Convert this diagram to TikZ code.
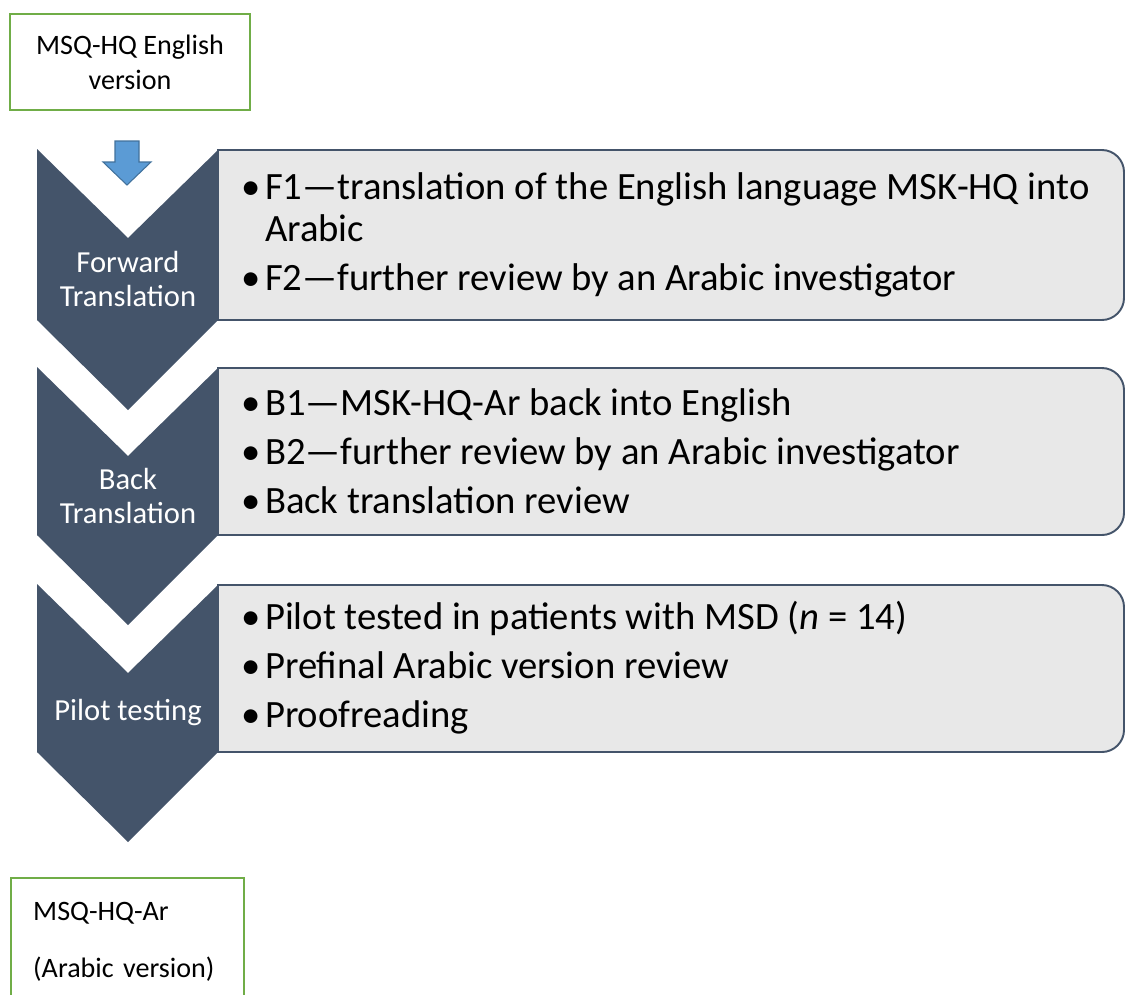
\documentclass[tikz,border=0pt]{standalone}
\usepackage{fontspec}
\setmainfont{Carlito}
\usepackage{tikz}
\usetikzlibrary{positioning}
\definecolor{slate}{RGB}{68,84,106}
\definecolor{stepgray}{RGB}{232,232,232}
\definecolor{versiongreen}{RGB}{112,173,71}
\definecolor{arrowblue}{RGB}{91,155,213}
\definecolor{arrowedge}{RGB}{65,113,156}
\newcommand{\bul}{\makebox[13.5pt][l]{\textbullet}}

\begin{document}
\begin{tikzpicture}[x=0.02cm, y=-0.02cm, every node/.style={inner sep=0pt},
    version/.style={draw=versiongreen, line width=1.4pt, font=\fontsize{16pt}{19.8pt}\selectfont},
    steptext/.style={anchor=west, align=left, font=\fontsize{22pt}{23.8pt}\selectfont},
    steplabel/.style={text=white, align=center, font=\fontsize{17.4pt}{19.3pt}\selectfont},
    stepbox/.style={draw=slate, fill=stepgray, line width=1.1pt}]

    \useasboundingbox (0,0) rectangle (1125,994);
    \clip (0,0) rectangle (1125,994);

    \foreach \t/\b in {150/320, 368/535, 585/752} {
        \draw[stepbox] (218,\b) -- (218,\t) -- (1102,\t) .. controls (1114,\t) and (1124,\t+10) .. (1124,\t+22)
            -- (1124,\b-22) .. controls (1124,\b-10) and (1114,\b) .. (1102,\b) -- cycle;
        \fill[slate] (37,\t-1) -- (128,\t+88) -- (218,\t) -- (218,\b) -- (128,\b+90) -- (37,\b) -- cycle;
    }

    \node[version, minimum width=4.8cm, minimum height=1.92cm, align=center] (eng) at (130,62) {MSQ-HQ English\\version};
    \filldraw[fill=arrowblue, draw=arrowedge, line width=0.6pt] (115,141) -- (139,141) -- (139,162) -- (151,162) -- (127,185) -- (103,162) -- (115,162) -- cycle;

    \node[steplabel] (fwdlbl) at (128,279) {Forward\\Translation};
    \node[steplabel] (backlbl) at (128,496) {Back\\Translation};
    \node[steplabel] (pilotlbl) at (128,713) {Pilot testing};

    \node[steptext] (fwd) at (241,235) {\bul F1—translation of the English language MSK-HQ into\\\hspace*{13.5pt}Arabic\\[4pt]\bul F2—further review by an Arabic investigator};
    \node[steptext] (back) at (241,451) {\bul B1—MSK-HQ-Ar back into English\\[4pt]\bul B2—further review by an Arabic investigator\\[4pt]\bul Back translation review};
    \node[steptext] (pilot) at (241,668) {\bul Pilot tested in patients with MSD (\textit{n} = 14)\\[4pt]\bul Prefinal Arabic version review\\[4pt]\bul Proofreading};

    \node[version, anchor=north west, text width=3.78cm, inner xsep=0.44cm, inner ysep=0.48cm, align=left] (ar) at (10,877) {MSQ-HQ-Ar\\[12.5pt](Arabic version)};
\end{tikzpicture}
\end{document}
